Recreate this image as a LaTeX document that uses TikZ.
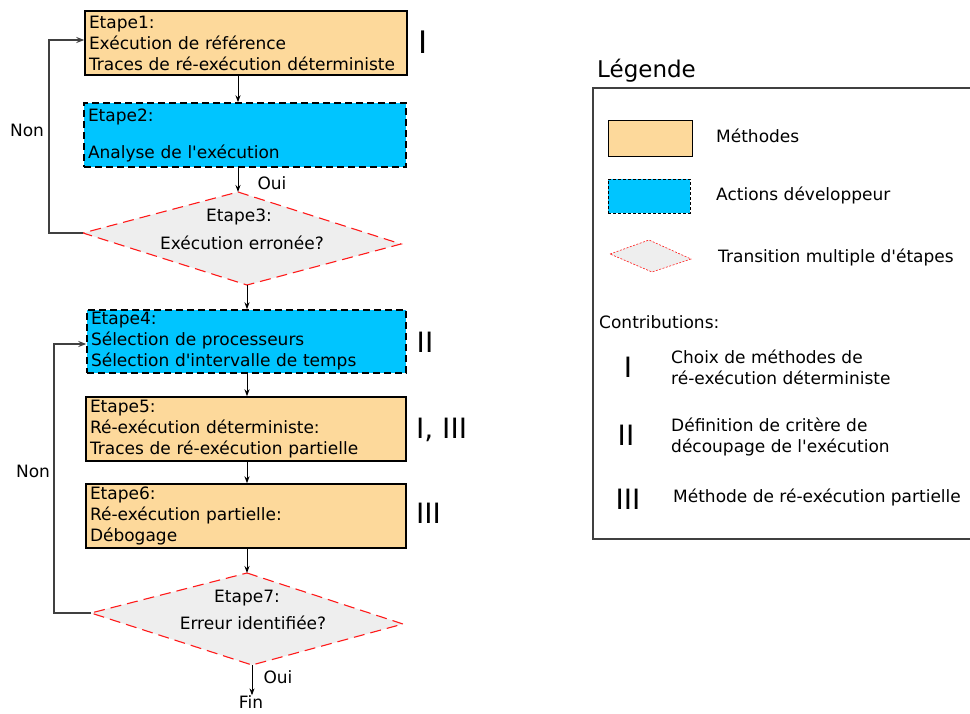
\documentclass[tikz,border=0pt]{standalone}
\usepackage{fontspec}
\setmainfont{DejaVu Sans}
\usetikzlibrary{arrows.meta}

\definecolor{methode}{HTML}{FDD99B}
\definecolor{devaction}{HTML}{00C5FF}
\definecolor{transfill}{HTML}{EEEEEE}
\definecolor{transline}{HTML}{FF1A1A}
\definecolor{linkgray}{HTML}{404040}

% straight apostrophe
\newcommand{\apos}{\textquotesingle}

\tikzset{
  basefont/.style={font=\fontsize{17}{21}\selectfont},
  stepbox/.style={basefont, rectangle, draw=black, line width=1.4pt,
    align=left, inner xsep=4pt, inner ysep=0pt, anchor=center},
  methodbox/.style={stepbox, fill=methode},
  devbox/.style={stepbox, fill=devaction, dash pattern=on 7pt off 4pt},
  transition/.style={fill=transfill, draw=transline, line width=1.1pt,
    dash pattern=on 11pt off 6pt},
  flow/.style={draw=black, line width=1pt, -{Stealth[length=7pt,width=5pt]}},
  loop/.style={draw=linkgray, line width=1.3pt, -{Stealth[length=8pt,width=6pt]}},
  lbl/.style={basefont, inner sep=0pt},
  roman/.style={font=\fontsize{28}{28}\selectfont, inner sep=0pt},
}

\begin{document}
\begin{tikzpicture}[x=1pt, y=-1pt]
\useasboundingbox (0,0) rectangle (970,713);

% ---------- steps 1 to 3 ----------
\node[methodbox, minimum width=322pt, minimum height=64pt, text width=314pt]
  (e1) at (246,43) {Etape1:\\Exécution de référence\\Traces de ré-exécution déterministe};
\node[devbox, minimum width=322pt, minimum height=64pt, text width=314pt]
  (e2) at (245,135) {Etape2:\\[16pt]Analyse de l\apos exécution};

\coordinate (d3t) at (238,192);
\coordinate (d3r) at (401,244);
\coordinate (d3b) at (247,285);
\coordinate (d3l) at (83,233);
\path[transition] (d3t) -- (d3r) -- (d3b) -- (d3l) -- cycle;
\node[lbl] (e3a) at (239,217) {Etape3:};
\node[lbl] (e3b) at (242,243) {Exécution erronée?};

\draw[flow] (e1.south -| d3t) -- (e2.north -| d3t);
\draw[flow] (e2.south -| d3t) -- (d3t);
\node[lbl] (oui1) at (272,183) {Oui};

\coordinate (n1c) at (49,233);
\coordinate (n1d) at (49,40);
\draw[loop] (d3l) -- (n1c) -- (n1d) -- (n1d -| e1.west);
\node[lbl] (non1) at (27,130) {Non};

% ---------- steps 4 to 7 ----------
\node[devbox, minimum width=319pt, minimum height=63pt, text width=311pt]
  (e4) at (246.5,341.5) {Etape4:\\Sélection de processeurs\\Sélection d\apos intervalle de temps};
\node[methodbox, minimum width=320pt, minimum height=64pt, text width=312pt]
  (e5) at (246,429) {Etape5:\\Ré-exécution déterministe:\\Traces de ré-exécution partielle};
\node[methodbox, minimum width=320pt, minimum height=64pt, text width=312pt]
  (e6) at (246,516) {Etape6:\\Ré-exécution partielle:\\Débogage};

\coordinate (d7t) at (247,573);
\coordinate (d7r) at (403,624);
\coordinate (d7b) at (252,665);
\coordinate (d7l) at (91,613);
\path[transition] (d7t) -- (d7r) -- (d7b) -- (d7l) -- cycle;
\node[lbl] (e7a) at (247,598) {Etape7:};
\node[lbl] (e7b) at (253,623) {Erreur identifiée?};

\draw[flow] (d3b) -- (e4.north -| d3b);
\draw[flow] (e4.south -| d3b) -- (e5.north -| d3b);
\draw[flow] (e5.south -| d3b) -- (e6.north -| d3b);
\draw[flow] (e6.south -| d3b) -- (d7t);

\coordinate (n2c) at (54,613);
\coordinate (n2d) at (54,344);
\draw[loop] (d7l) -- (n2c) -- (n2d) -- (n2d -| e4.west);
\node[lbl] (non2) at (33,471) {Non};

\node[lbl] (fin) at (251,702) {Fin};
\draw[flow] (d7b) -- (fin.north -| d7b);
\node[lbl] (oui2) at (278,677) {Oui};

% contribution marks beside the steps
\node[roman, font=\fontsize{31}{31}\selectfont] (c1) at (423,42) {I};
\node[roman] (c4) at (425,342) {II};
\node[roman, anchor=west] (c5) at (416,430) {I, III};
\node[roman, anchor=west] (c6) at (416,513) {III};

% ---------- legend ----------
\node[font=\fontsize{23}{23}\selectfont, inner sep=0pt, anchor=west] (legtitle) at (597,71) {Légende};
\draw[draw=linkgray, line width=1.3pt] (593,88) rectangle (976,539);

\node[rectangle, draw=black, line width=1pt, fill=methode, minimum width=84pt, minimum height=36pt]
  (lm) at (650,138) {};
\node[lbl, anchor=west] (lmt) at (716,136) {Méthodes};

\node[rectangle, draw=black, line width=1pt, fill=devaction, dash pattern=on 3pt off 2pt,
  minimum width=82pt, minimum height=34pt] (ld) at (649,196) {};
\node[lbl, anchor=west] (ldt) at (716,195) {Actions développeur};

\path[fill=transfill, draw=transline, line width=0.6pt, dash pattern=on 2pt off 1.5pt]
  (610,254) -- (649,240) -- (691,259) -- (652,272) -- cycle;
\node[lbl, anchor=west] (ltt) at (718,257) {Transition multiple d\apos étapes};

\node[lbl, anchor=west] (contrib) at (599,322) {Contributions:};

\node[roman] (lr1) at (628,367) {I};
\node[lbl, anchor=west, align=left] (lr1t) at (671,367) {Choix de méthodes de\\ré-exécution déterministe};
\node[roman] (lr2) at (626,435) {II};
\node[lbl, anchor=west, align=left] (lr2t) at (671,437) {Définition de critère de\\découpage de l\apos exécution};
\node[roman] (lr3) at (628,499) {III};
\node[lbl, anchor=west] (lr3t) at (673,497) {Méthode de ré-exécution partielle};
\end{tikzpicture}
\end{document}
